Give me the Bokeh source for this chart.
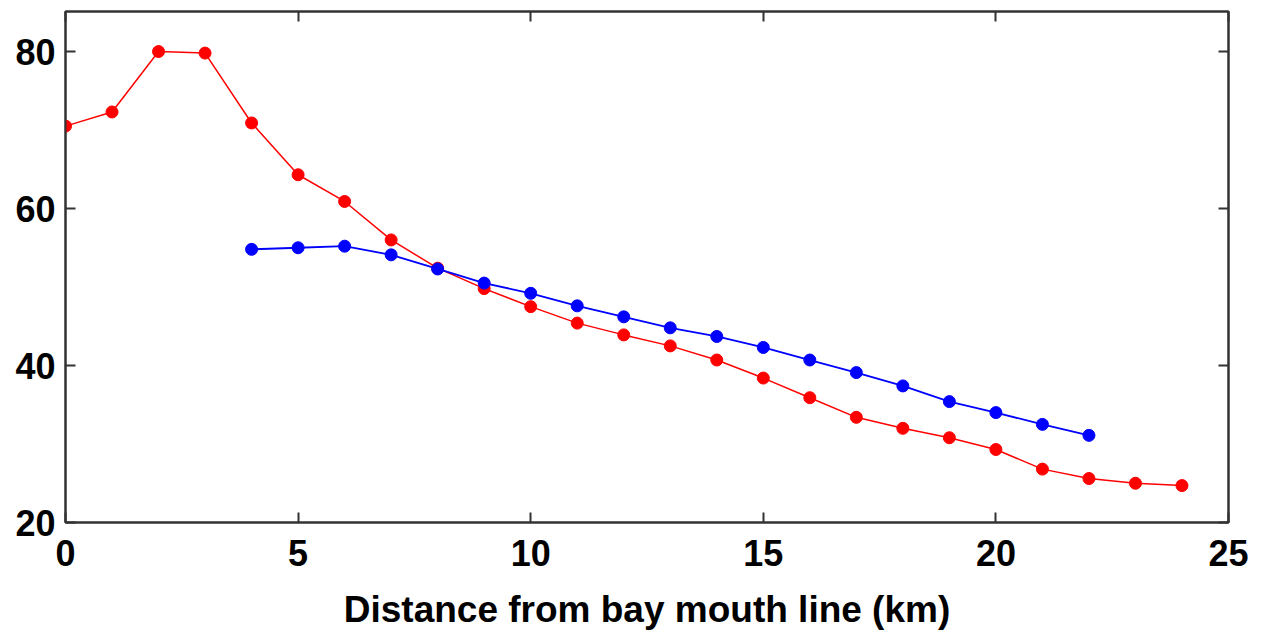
from bokeh.plotting import figure
from bokeh.models import LinearAxis, Range1d, FixedTicker, CustomJSTickFormatter
from bokeh.embed import file_html
from bokeh.resources import INLINE

# Data
red_x = list(range(0, 25))
red_y = [70.5, 72.3, 80.0, 79.8, 70.9, 64.3, 60.9, 56.0, 52.4, 49.8, 47.5, 45.4,
         43.9, 42.5, 40.7, 38.4, 35.9, 33.4, 32.0, 30.8, 29.3, 26.8, 25.6, 25.0, 24.7]
blue_x = list(range(4, 23))
blue_y = [54.8, 55.0, 55.2, 54.1, 52.3, 50.5, 49.2, 47.6, 46.2, 44.8, 43.7, 42.3,
          40.7, 39.1, 37.4, 35.4, 34.0, 32.5, 31.1]
x_ticks = [0, 5, 10, 15, 20, 25]
y_ticks = [20, 40, 60, 80]
x_label = "Distance from bay mouth line (km)"

FONT = "Liberation Sans"
AX = "#333333"

p = figure(width=1261, height=637, output_backend="svg", toolbar_location=None,
           x_range=Range1d(0, 25), y_range=Range1d(20, 85.1),
           x_axis_location=None, y_axis_location=None,
           min_border_left=65, min_border_right=33, min_border_top=11, min_border_bottom=115)
p.grid.visible = False
p.outline_line_color = AX
p.outline_line_width = 2
p.background_fill_color = "white"
p.border_fill_color = "white"


def style(ax, ticks, labels=True):
    ax.ticker = FixedTicker(ticks=ticks)
    ax.major_tick_in = 10
    ax.major_tick_out = 0
    ax.minor_tick_line_color = None
    ax.axis_line_color = AX
    ax.axis_line_width = 2
    ax.major_tick_line_color = AX
    ax.major_tick_line_width = 2
    if labels:
        ax.major_label_text_font = FONT
        ax.major_label_text_font_style = "bold"
        ax.major_label_text_font_size = "36px"
        ax.major_label_text_color = "black"
    else:
        ax.formatter = CustomJSTickFormatter(code="return '';")
        ax.major_label_standoff = 0


xb = LinearAxis(axis_label=x_label)
style(xb, x_ticks)
xb.major_label_standoff = 17
xb.axis_label_text_font = FONT
xb.axis_label_text_font_style = "bold"
xb.axis_label_text_font_size = "37px"
xb.axis_label_text_color = "black"
xb.axis_label_standoff = 20
p.add_layout(xb, "below")

xt = LinearAxis()
style(xt, x_ticks, labels=False)
p.add_layout(xt, "above")

yl = LinearAxis()
style(yl, y_ticks)
yl.major_label_standoff = 10
p.add_layout(yl, "left")

yr = LinearAxis()
style(yr, y_ticks, labels=False)
p.add_layout(yr, "right")

p.line(red_x, red_y, line_color="#ff0000", line_width=1.5)
p.scatter(red_x, red_y, size=12, fill_color="#ff0000", line_color="#ff0000")
p.line(blue_x, blue_y, line_color="#0000ff", line_width=1.8)
p.scatter(blue_x, blue_y, size=12, fill_color="#0000ff", line_color="#0000ff")

open("out.html", "w").write(file_html(p, INLINE))
